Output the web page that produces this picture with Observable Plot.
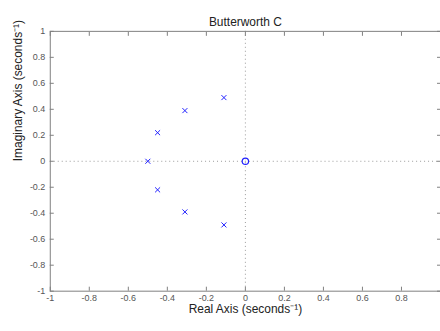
<!DOCTYPE html>
<html>
<head>
<meta charset="utf-8">
<script src="https://cdn.jsdelivr.net/npm/d3@7"></script>
<script src="https://cdn.jsdelivr.net/npm/@observablehq/plot@0.6"></script>
<style>
  html, body { margin: 0; padding: 0; background: #fff; overflow: hidden; }
  #chart svg { display: block; font-family: "Liberation Sans", Arial, sans-serif; }
</style>
</head>
<body>
<div id="chart"></div>
<script>
const title = "Butterworth C";
const xLabel = "Real Axis (seconds\u207B\u00B9)";
const yLabel = "Imaginary Axis (seconds\u207B\u00B9)";
const poleRe = [-0.5, -0.45, -0.45, -0.31, -0.31, -0.11, -0.11];
const poleIm = [0, 0.22, -0.22, 0.39, -0.39, 0.49, -0.49];
const zeroRe = [0];
const zeroIm = [0];
const xTicks = [-1, -0.8, -0.6, -0.4, -0.2, 0, 0.2, 0.4, 0.6, 0.8];
const yTicks = [-1, -0.8, -0.6, -0.4, -0.2, 0, 0.2, 0.4, 0.6, 0.8, 1];

const poles = poleRe.map((re, i) => ({re, im: poleIm[i]}));
const zeros = zeroRe.map((re, i) => ({re, im: zeroIm[i]}));

const fmt = d => String(d);
const blank = () => "";
const blue = "#2020ff";

const chart = Plot.plot({
  width: 442,
  height: 331,
  marginTop: 31,
  marginBottom: 39,
  marginLeft: 50,
  marginRight: 0,
  style: {fontFamily: "Liberation Sans, Arial, sans-serif", background: "#fff"},
  x: {domain: [-1, 1]},
  y: {domain: [-1, 1]},
  marks: [
    Plot.ruleX([0], {stroke: "#999", strokeDasharray: "1,3", strokeWidth: 1}),
    Plot.ruleY([0], {stroke: "#999", strokeDasharray: "1,3", strokeWidth: 1}),
    Plot.frame({stroke: "#808080", strokeWidth: 1}),
    Plot.axisX({anchor: "bottom", ticks: xTicks, tickFormat: fmt, tickSize: -4, tickPadding: 7, stroke: "#808080", fill: "#555", fontSize: 9, label: null}),
    Plot.axisX({anchor: "top", ticks: xTicks, tickFormat: blank, tickSize: -4, stroke: "#808080", label: null}),
    Plot.axisY({anchor: "left", ticks: yTicks, tickFormat: fmt, tickSize: -4, tickPadding: 9, stroke: "#808080", fill: "#555", fontSize: 9, label: null}),
    Plot.axisY({anchor: "right", ticks: yTicks, tickFormat: blank, tickSize: -4, stroke: "#808080", label: null}),
    Plot.dot(poles, {x: "re", y: "im", symbol: "times", r: 2.4, stroke: blue, strokeWidth: 1}),
    Plot.dot(zeros, {x: "re", y: "im", symbol: "circle", r: 3.2, stroke: blue, strokeWidth: 1.2}),
    Plot.text([title], {frameAnchor: "top", dy: -14, text: d => d, fontSize: 12, fill: "#222"}),
    Plot.text([xLabel], {frameAnchor: "bottom", dy: 22, text: d => d, fontSize: 12, fill: "#222"}),
    Plot.text([yLabel], {frameAnchor: "left", dx: -32, rotate: -90, text: d => d, fontSize: 12, fill: "#222"})
  ]
});
document.getElementById("chart").append(chart);
</script>
</body>
</html>
